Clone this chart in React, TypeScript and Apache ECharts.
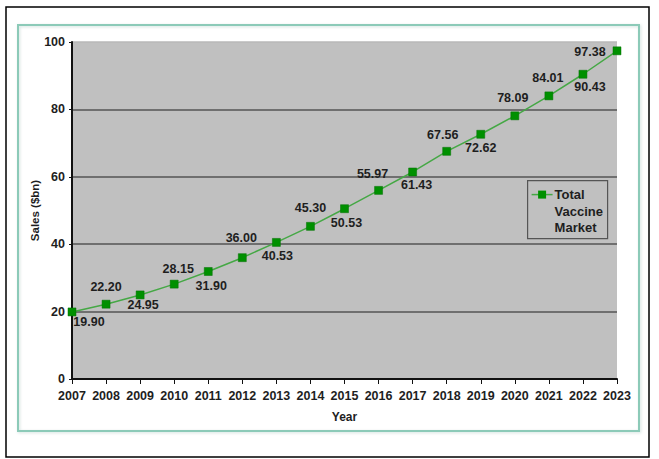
import React, { useEffect, useRef } from "react";
import * as echarts from "echarts";

const years = ["2007","2008","2009","2010","2011","2012","2013","2014","2015","2016","2017","2018","2019","2020","2021","2022","2023"];
const sales = [19.90, 22.20, 24.95, 28.15, 31.90, 36.00, 40.53, 45.30, 50.53, 55.97, 61.43, 67.56, 72.62, 78.09, 84.01, 90.43, 97.38];
// label offsets relative to each point's centre
const labelOffsets: [number, number][] = [
  [17, 10], [0, -17], [3, 10], [4, -15], [3, 15], [-1, -20], [1, 14], [0, -18], [2, 14],
  [-6, -16], [4, 13], [-4, -16], [0, 14], [-2, -18], [-1, -18], [7, 13], [-27, 1],
];
const yTicks = [0, 20, 40, 60, 80, 100];
const seriesName = "Total Vaccine Market";
const legendLines = ["Total", "Vaccine", "Market"];

const FONT = "'Liberation Sans', Arial, sans-serif";

export default function App() {
  const ref = useRef<HTMLDivElement>(null);
  useEffect(() => {
    if (!ref.current) return;
    const chart = echarts.init(ref.current, null, { renderer: "svg" });
    const textBase = { fontFamily: FONT, fontWeight: "bold" as const, color: "#1e1e1e" };
    chart.setOption({
      animation: false,
      backgroundColor: "#ffffff",
      grid: {
        left: 72, right: 42, top: 42, bottom: 80,
        show: true, backgroundColor: "#c0c0c0", borderWidth: 0,
      },
      xAxis: {
        type: "category",
        data: years,
        boundaryGap: false,
        name: "Year",
        nameLocation: "middle",
        nameGap: 32,
        nameMoveOverlap: false,
        nameTextStyle: { ...textBase, fontSize: 12 },
        axisLine: { lineStyle: { color: "#111", width: 2 } },
        axisTick: { show: true, length: 5, lineStyle: { color: "#111", width: 1 } },
        axisLabel: { ...textBase, fontSize: 12.5, margin: 10, interval: 0 },
        splitLine: { show: false },
      },
      yAxis: {
        type: "value",
        min: yTicks[0],
        max: yTicks[yTicks.length - 1],
        interval: 20,
        name: "Sales ($bn)",
        nameLocation: "middle",
        nameGap: 37,
        nameRotate: 90,
        nameMoveOverlap: false,
        nameTextStyle: { ...textBase, fontSize: 11.5, verticalAlign: "middle" },
        axisLine: { show: true, lineStyle: { color: "#111", width: 2 } },
        axisTick: { show: true, length: 3, lineStyle: { color: "#111", width: 1 } },
        axisLabel: { ...textBase, fontSize: 12.5, margin: 7 },
        splitLine: {
          show: true,
          lineStyle: { color: ["#c0c0c0", "#555555", "#555555", "#555555", "#555555", "#b8b8b8"], width: 1.5 },
        },
      },
      series: [
        {
          name: seriesName,
          type: "line",
          symbol: "rect",
          symbolSize: 8,
          itemStyle: { color: "#009000", borderColor: "#007000", borderWidth: 0.5 },
          lineStyle: { color: "#45a845", width: 1.5 },
          data: sales.map((v, i) => ({
            value: v,
            label: {
              show: true,
              position: "inside",
              offset: labelOffsets[i],
              formatter: () => v.toFixed(2),
              ...textBase,
              fontSize: 12.5,
              textBorderWidth: 0,
            },
          })),
        },
      ],
      graphic: [
        {
          type: "rect",
          shape: { x: 6, y: 7, width: 643, height: 450 },
          style: { fill: "none", stroke: "#000", lineWidth: 1.5 },
          silent: true,
          z: 100,
        },
        {
          type: "rect",
          shape: { x: 18, y: 25, width: 621, height: 406 },
          style: { fill: "none", stroke: "#8ccab8", lineWidth: 2, shadowColor: "rgba(120,170,160,0.35)", shadowBlur: 3, shadowOffsetX: 1, shadowOffsetY: 1 },
          silent: true,
          z: 100,
        },
        {
          type: "group",
          left: 527,
          top: 180,
          z: 100,
          children: [
            {
              type: "rect",
              shape: { x: 0, y: 0, width: 80, height: 58 },
              style: { fill: "#c0c0c0", stroke: "#555", lineWidth: 1.2 },
            },
            {
              type: "line",
              shape: { x1: 4, y1: 14, x2: 25, y2: 14 },
              style: { stroke: "#45a845", lineWidth: 1.5 },
            },
            {
              type: "rect",
              shape: { x: 10.5, y: 10, width: 8, height: 8 },
              style: { fill: "#009000" },
            },
            ...legendLines.map((t, i) => ({
              type: "text",
              x: 27,
              y: 14 + i * 16.5,
              style: {
                text: t,
                font: `bold 13px ${FONT}`,
                fill: "#1e1e1e",
                textVerticalAlign: "middle",
                verticalAlign: "middle",
              },
            })),
          ],
        },
      ],
    });
    return () => chart.dispose();
  }, []);
  return (
    <div
      ref={ref}
      style={{ position: "fixed", left: 0, top: 0, width: 659, height: 459 }}
    />
  );
}
